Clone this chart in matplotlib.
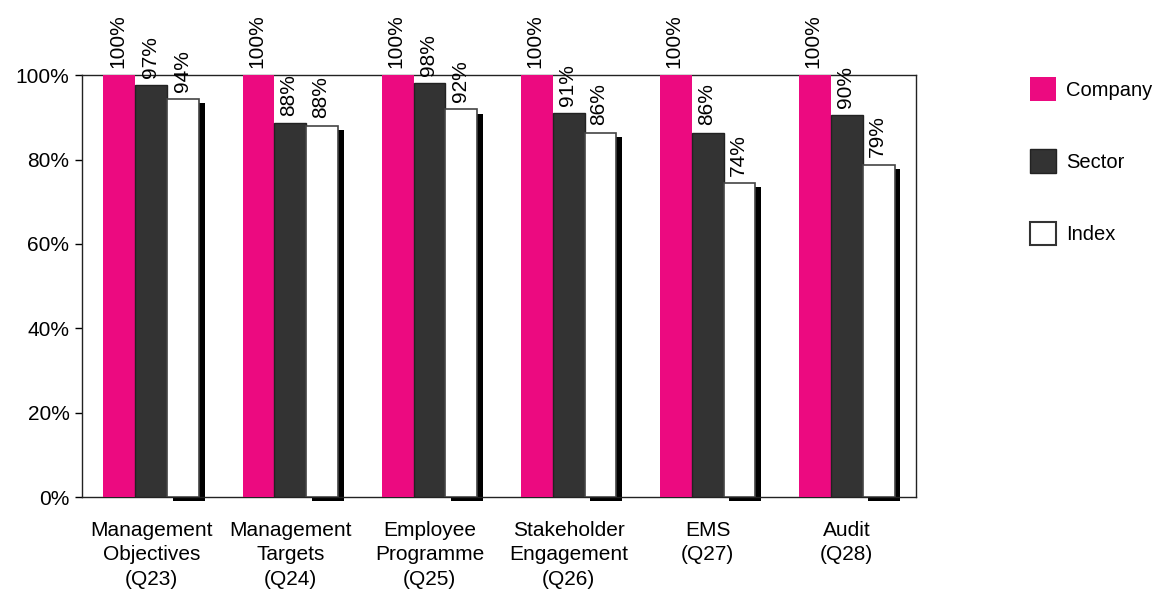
import matplotlib
matplotlib.use("Agg")
import matplotlib.pyplot as plt
import numpy as np
from matplotlib.patches import Patch
from matplotlib.ticker import FuncFormatter

plt.rcParams['font.family'] = ['Liberation Sans', 'DejaVu Sans']

categories = ["Management\nObjectives\n(Q23)", "Management\nTargets\n(Q24)",
              "Employee\nProgramme\n(Q25)", "Stakeholder\nEngagement\n(Q26)",
              "EMS\n(Q27)", "Audit\n(Q28)"]
company = [100, 100, 100, 100, 100, 100]
sector = [97.6, 88.6, 98.1, 91.0, 86.3, 90.5]
index = [94.3, 88.0, 91.9, 86.3, 74.4, 78.7]
company_lbl = ["100%"] * 6
sector_lbl = ["97%", "88%", "98%", "91%", "86%", "90%"]
index_lbl = ["94%", "88%", "92%", "86%", "74%", "79%"]

fig = plt.figure(figsize=(11.64, 6.01), dpi=100)
ax = fig.add_axes([0.0704, 0.173, 0.7166, 0.702])

x = np.arange(len(categories))
w = 0.23
pink = '#EC0A80'
dark = '#333333'
fs = 15

ax.bar(x - w, company, w, color=pink, edgecolor='none', zorder=3)
ax.bar(x, sector, w, color=dark, edgecolor='#222222', linewidth=1.0, zorder=3)
# shadow for index bars
ax.bar(x + w + 0.04, index, w, bottom=-1.0, color='black', edgecolor='none', zorder=2, clip_on=False)
ax.bar(x + w, index, w, color='white', edgecolor='#444444', linewidth=1.2, zorder=3)

pad = 1.8
for xs, vals, lbls in [(x - w, company, company_lbl), (x, sector, sector_lbl), (x + w, index, index_lbl)]:
    for xi, v, l in zip(xs, vals, lbls):
        ax.text(xi - 0.01, v + pad, l, rotation=90, ha='center', va='bottom', fontsize=fs, clip_on=False)

ax.set_xlim(-0.5, len(categories) - 0.5)
ax.set_ylim(0, 100)
ax.set_yticks([0, 20, 40, 60, 80, 100])
ax.yaxis.set_major_formatter(FuncFormatter(lambda v, p: f"{int(v)}%"))
ax.set_xticks(x)
ax.set_xticklabels(categories, fontsize=fs, linespacing=1.38)
ax.tick_params(axis='x', length=0, pad=17)
ax.tick_params(axis='y', labelsize=fs, direction='out', length=5, width=1, colors='black', pad=4)
for s in ax.spines.values():
    s.set_linewidth(1.0)
    s.set_color('#222222')

handles = [Patch(facecolor=pink, edgecolor='none', label='Company'),
           Patch(facecolor=dark, edgecolor='#222222', label='Sector'),
           Patch(facecolor='white', edgecolor='#333333', linewidth=1.5, label='Index')]
fig.legend(handles=handles, loc='upper left', bbox_to_anchor=(0.869, 0.902), frameon=False,
           fontsize=14.5, handlelength=1.3, handleheight=1.45, labelspacing=2.4, handletextpad=0.5)

fig.savefig("out.png", dpi=100)
